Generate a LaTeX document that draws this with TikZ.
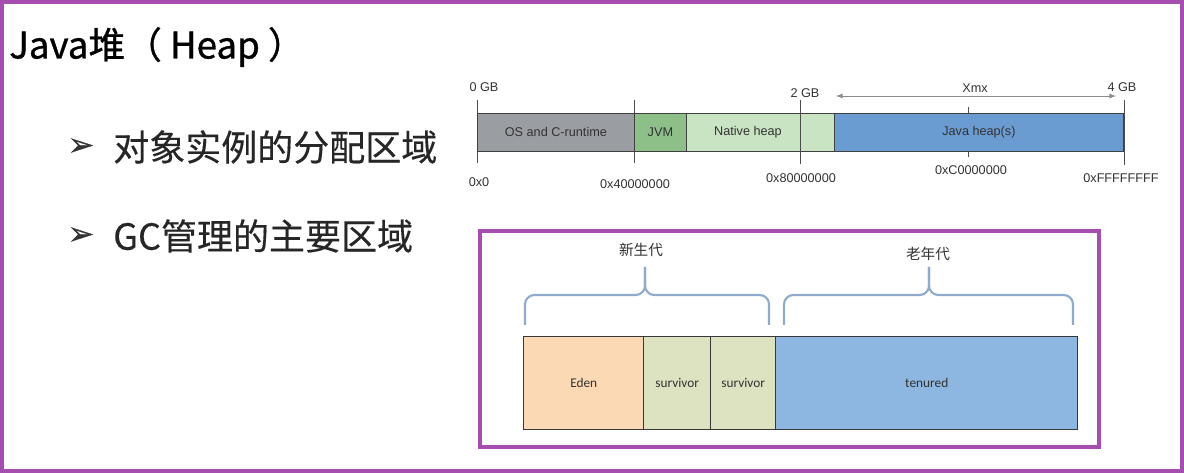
\documentclass[tikz,border=0pt]{standalone}
\usepackage{fontspec}
\setmainfont{Liberation Sans}
\newfontfamily\cjk{Noto Sans CJK SC}
\newfontfamily\cjktitle[FakeBold=0.9]{Noto Sans CJK SC}
\newfontfamily\cjkbullet[FakeBold=0.35]{Noto Sans CJK SC}
\newfontfamily\dingfont[FakeBold=0.6]{DejaVu Sans}
\newfontfamily\calfont{Carlito}
\definecolor{framepurple}{RGB}{166,78,176}
\definecolor{osgray}{RGB}{154,158,162}
\definecolor{jvmgreen}{RGB}{141,191,137}
\definecolor{nativegreen}{RGB}{201,228,195}
\definecolor{javablue}{RGB}{106,155,209}
\definecolor{edenpeach}{RGB}{252,217,181}
\definecolor{survolive}{RGB}{221,227,193}
\definecolor{tenblue}{RGB}{141,182,224}
\definecolor{bracecol}{RGB}{143,170,203}
\definecolor{txtgray}{RGB}{50,50,50}
\tikzset{
  mem/.style={draw=black!75, line width=0.6pt, anchor=west, minimum height=28.5pt, inner sep=0pt, font=\fontsize{9.5}{9.5}\selectfont, text=txtgray},
  gen/.style={draw=black!78, line width=1.1pt, anchor=west, minimum height=69.75pt, inner sep=0pt, font=\calfont\fontsize{10}{10}\selectfont, text=txtgray},
  addr/.style={font=\fontsize{9.5}{9.5}\selectfont, text=txtgray, inner sep=0pt},
  tick/.style={black!70, line width=0.6pt},
  brace/.style={bracecol, line width=1.6pt, rounded corners=7pt},
  bullet/.style={anchor=west, font=\cjkbullet\fontsize{27}{27}\selectfont, text=black!85, inner sep=0pt},
  arrowmark/.style={inner sep=0pt, font=\dingfont\fontsize{24}{24}\selectfont, text=black!80},
}
\begin{document}
\begin{tikzpicture}[x=0.75pt,y=-0.75pt,>=latex]
  \useasboundingbox (0,0) rectangle (1184,473);
  \draw[framepurple, line width=3pt] (2,2) rectangle (1182,471);

  % title and bullets
  \node[anchor=west, inner sep=0pt, font=\cjktitle\fontsize{27.5}{27.5}\selectfont, text=black] (title) at (9,47) {Java堆（ Heap ）};
  \node[arrowmark] (arr1) at (81,147) {➢};
  \node[bullet] (b1) at (113,147) {对象实例的分配区域};
  \node[arrowmark] (arr2) at (81,236) {➢};
  \node[bullet] (b2) at (113,236) {GC管理的主要区域};

  % address space bar
  \draw[tick] (477,100) -- (477,163);
  \draw[tick] (634,100) -- (634,163);
  \draw[tick] (968,107) -- (968,157);
  \draw[tick] (1124,100) -- (1124,165);
  \node[mem, fill=osgray, minimum width=117.75pt] (os) at (477,132) {OS and C-runtime};
  \node[mem, fill=jvmgreen, minimum width=39pt] (jvm) at (634,132) {JVM};
  \node[mem, fill=nativegreen, minimum width=111pt] (native) at (686,132) {};
  \node[mem, fill=javablue, minimum width=216.75pt] (javaheap) at (834,132) {Java heap(s)};
  \draw[tick] (800,100) -- (800,164);
  \node[addr] (nativelbl) at (748,132) {Native heap};
  \node[addr] (gb0) at (484,87) {0 GB};
  \node[addr] (gb2) at (805,93) {2 GB};
  \node[addr] (gb4) at (1122,87) {4 GB};
  \node[addr] (xmx) at (975,88) {Xmx};
  \coordinate (xmxL) at (836,96);
  \coordinate (xmxR) at (1116,96);
  \draw[<->, black!45, line width=0.7pt] (xmxL) -- (xmxR);
  \node[addr] (a0) at (479,182) {0x0};
  \node[addr] (a4) at (635,184) {0x40000000};
  \node[addr] (a8) at (801,178) {0x80000000};
  \node[addr] (ac) at (971,170) {0xC0000000};
  \node[addr] (af) at (1121,178) {0xFFFFFFFF};

  % generations
  \draw[framepurple, line width=3pt] (480,231) rectangle (1099,447);
  \node[gen, fill=edenpeach, minimum width=90pt] (eden) at (523,383) {Eden};
  \node[gen, fill=survolive, minimum width=50.25pt] (s0) at (643,383) {survivor};
  \node[gen, fill=survolive, minimum width=48.75pt] (s1) at (710,383) {survivor};
  \node[gen, fill=tenblue, minimum width=226.5pt] (tenured) at (775,383) {tenured};
  \draw[brace] (525,325) |- (645,295) -- (645,267);
  \draw[brace] (769,325) |- (645,295) -- (645,267);
  \draw[brace] (784,325) |- (929,295) -- (929,267);
  \draw[brace] (1073,325) |- (929,295) -- (929,267);
  \node[font=\cjk\fontsize{11}{11}\selectfont, text=txtgray] (young) at (641,250) {新生代};
  \node[font=\cjk\fontsize{11}{11}\selectfont, text=txtgray] (old) at (928,254) {老年代};
\end{tikzpicture}
\end{document}
